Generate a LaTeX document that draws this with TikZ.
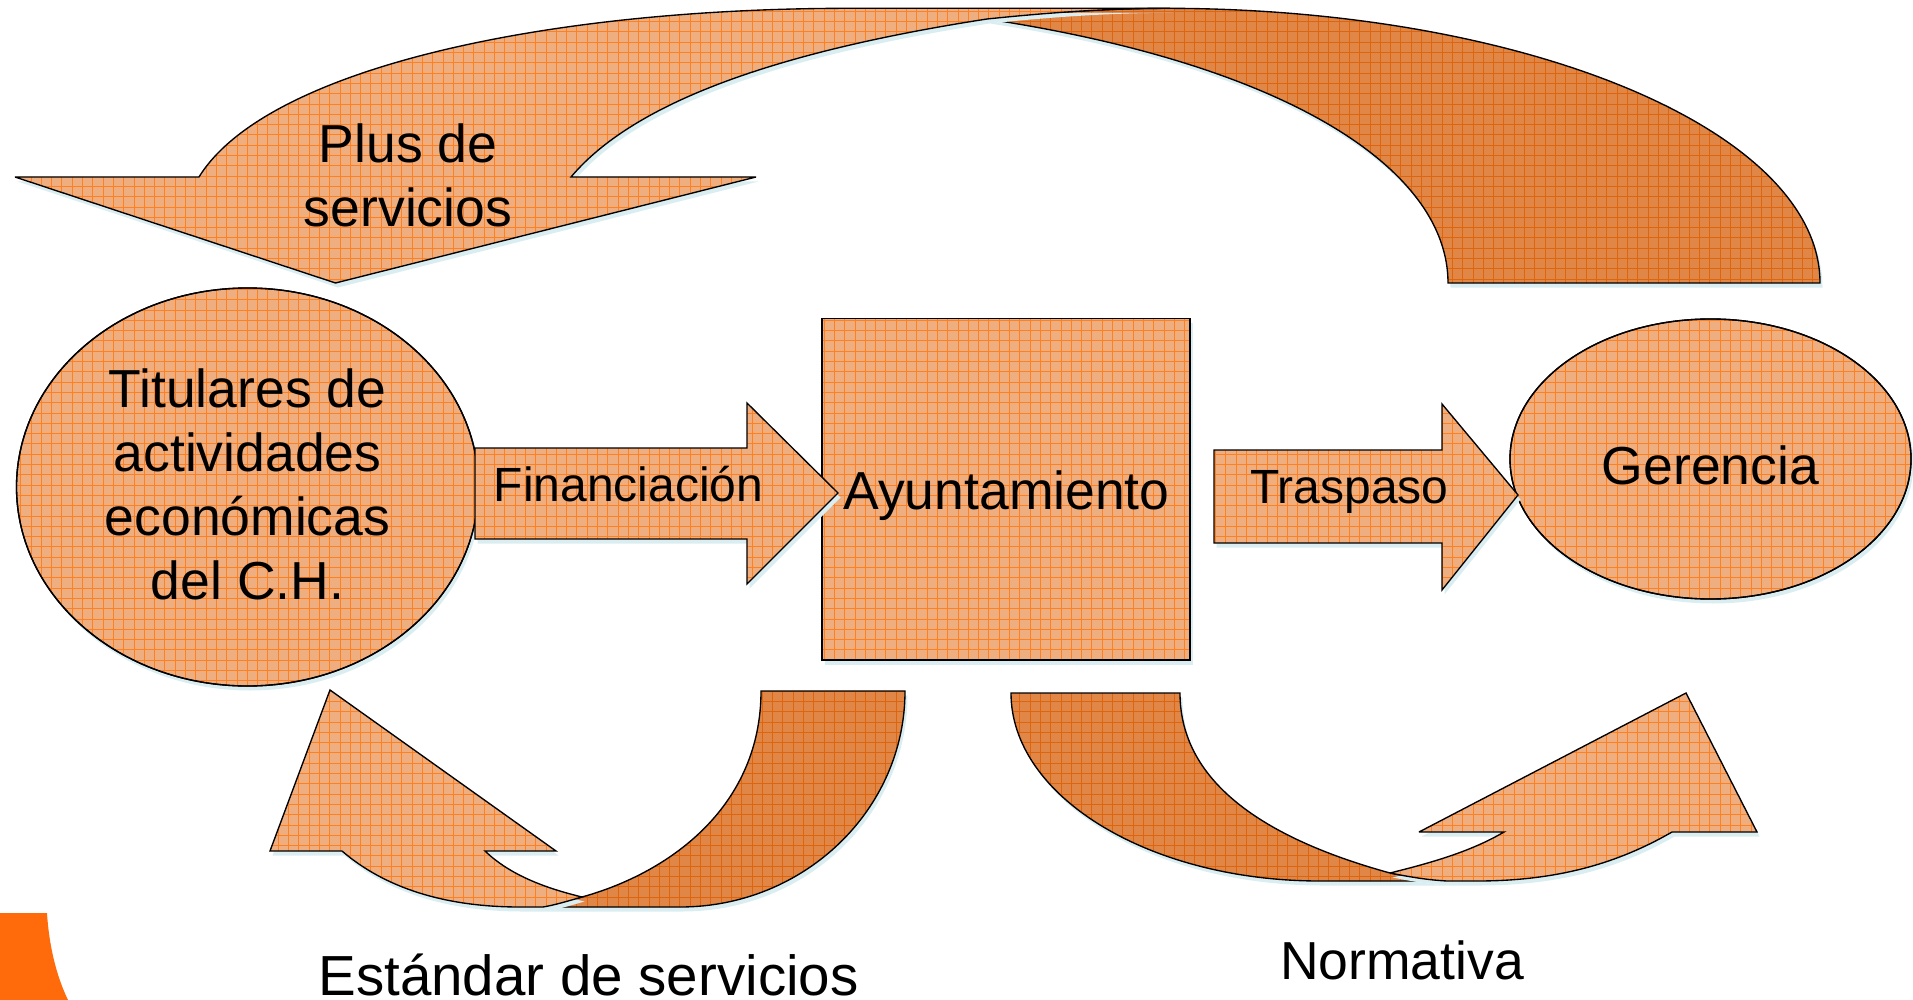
\documentclass[tikz,border=0pt]{standalone}
\usepackage{fontspec}
\setmainfont{Liberation Sans}
\usetikzlibrary{shapes.geometric}
\definecolor{lightbase}{RGB}{238,174,128}
\definecolor{lightline}{RGB}{255,128,32}
\definecolor{darkbase}{RGB}{224,134,70}
\definecolor{darkline}{RGB}{222,100,14}
\definecolor{shadowc}{RGB}{218,237,241}
\definecolor{cornerc}{RGB}{255,107,10}
\tikzset{
  lightgrid/.style={draw=lightline,line width=0.7pt},
  darkgrid/.style={draw=darkline,line width=0.7pt},
  outline/.style={draw=black,line width=1.35pt,line join=miter,miter limit=4},
  bigtext/.style={font=\fontsize{53.5}{64}\selectfont,align=center,inner sep=0pt,anchor=base},
  midtext/.style={font=\fontsize{48}{58}\selectfont,align=center,inner sep=0pt,anchor=base},
  longtext/.style={font=\fontsize{56.5}{64}\selectfont,align=center,inner sep=0pt,anchor=base},
  nodeline/.style={draw=black,line width=1.35pt,inner sep=0pt}
}
% #1 path, #2 base colour, #3 grid style
\newcommand\patchshape[3]{%
  \fill[shadowc,shift={(2.5,4.5)}] #1;
  \begin{scope}
    \clip #1;
    \fill[#2] (0,0) rectangle (1913,1000);
    \begin{scope}[yshift=-1000pt,y=1pt]
      \draw[#3,step=10.3] (0,0) grid (1913,1000);
    \end{scope}
  \end{scope}
  \path[outline] #1;
}
\begin{document}
\begin{tikzpicture}[x=1pt,y=-1pt]
\useasboundingbox (0,0) rectangle (1913,1000);
% corner
\fill[cornerc] (0,913) -- (47,913) .. controls (49,945) and (56,975) .. (68,1000) -- (0,1000) -- cycle;
% Plus de servicios arrow
\patchshape{(987,19) .. controls (1045,13) and (1105,8.3) .. (1165,8.3)
   .. controls (1527,8.3) and (1820,131) .. (1820,283) -- (1448,283)
   .. controls (1448,170) and (1290,65) .. (987,19) -- cycle}{darkbase}{darkgrid}
\patchshape{(15,177) -- (199,177) .. controls (265,70) and (540,8.3) .. (850,8.3) -- (1170,8.3)
   .. controls (1105,8.3) and (1045,13) .. (987,19)
   .. controls (800,48) and (640,95) .. (571,177) -- (756,177) -- (335.5,283) -- cycle}{lightbase}{lightgrid}
% Estandar arrow
\patchshape{(761,691) -- (905,691) .. controls (905,810) and (804,907) .. (680,907) -- (543,907)
   .. controls (555,905) and (568,901) .. (582,897)
   .. controls (672,872) and (761,805) .. (761,691) -- cycle}{darkbase}{darkgrid}
\patchshape{(330,690) -- (556,851) -- (485,851) .. controls (510,875) and (545,888) .. (582,897)
   .. controls (568,901) and (555,905) .. (543,907) -- (520,907)
   .. controls (445,907) and (385,888) .. (342,851) -- (270,851) -- cycle}{lightbase}{lightgrid}
% Normativa arrow
\patchshape{(1011,693) -- (1180,693) .. controls (1180,785) and (1270,840) .. (1390,873)
   .. controls (1410,877) and (1428,880) .. (1447,881) -- (1320,881)
   .. controls (1150,881) and (1011,797) .. (1011,693) -- cycle}{darkbase}{darkgrid}
\patchshape{(1686,693) -- (1757,832) -- (1672,832) .. controls (1620,862) and (1560,881) .. (1477,881)
   -- (1447,881) .. controls (1428,880) and (1410,877) .. (1390,873)
   .. controls (1430,863) and (1470,852) .. (1504,832) -- (1419,832) -- cycle}{lightbase}{lightgrid}
% Titulares ellipse
\patchshape{(247.5,487) ellipse [x radius=231,y radius=199]}{lightbase}{lightgrid}
\node[ellipse,nodeline,minimum width=462pt,minimum height=398pt] (titulares) at (247.5,487) {};
% Gerencia ellipse
\patchshape{(1710.5,459) ellipse [x radius=200.5,y radius=140]}{lightbase}{lightgrid}
\node[ellipse,nodeline,minimum width=401pt,minimum height=280pt] (gerencia) at (1710.5,459) {};
% Ayuntamiento box
\patchshape{(822,318.5) rectangle (1190,660)}{lightbase}{lightgrid}
\node[rectangle,nodeline,minimum width=368pt,minimum height=341.5pt] (ayto) at (1006,489.25) {};
% Block arrows
\patchshape{(475,448) -- (747,448) -- (747,403) -- (838,493) -- (747,584) -- (747,539) -- (475,539) -- cycle}{lightbase}{lightgrid}
\patchshape{(1214,450) -- (1442,450) -- (1442,404) -- (1518,495) -- (1442,590) -- (1442,543) -- (1214,543) -- cycle}{lightbase}{lightgrid}
% Labels
\node[bigtext] (plus1) at (408,163) {Plus de};
\node[bigtext] (plus2) at (408,227) {servicios};
\node[bigtext] (tit1) at (247.5,407.5) {Titulares de};
\node[bigtext] (tit2) at (247.5,471) {actividades};
\node[bigtext] (tit3) at (247.5,535.5) {económicas};
\node[bigtext] (tit4) at (247.5,599) {del C.H.};
\node[midtext] (fin) at (628.5,501) {Financiación};
\node[bigtext] (aytolabel) at (1006.5,509) {Ayuntamiento};
\node[midtext] (tras) at (1349.5,503) {Traspaso};
\node[bigtext] (ger) at (1710.5,484) {Gerencia};
\node[longtext] (est) at (588.5,995) {Estándar de servicios};
\node[bigtext] (norm) at (1402,979) {Normativa};
\end{tikzpicture}
\end{document}
